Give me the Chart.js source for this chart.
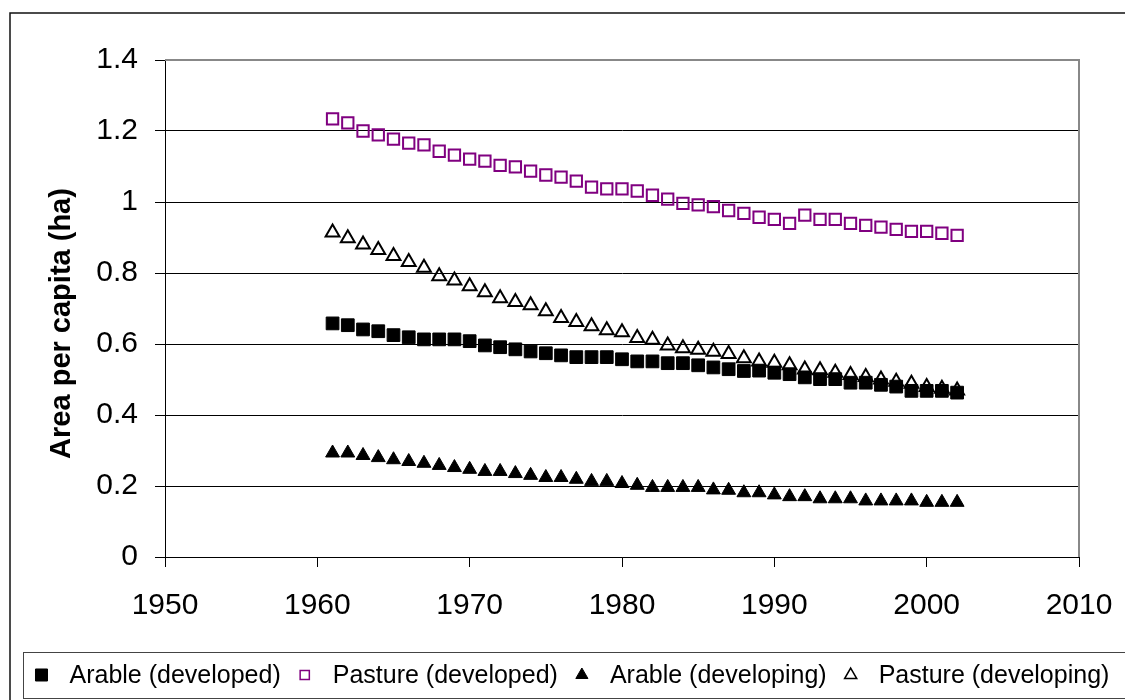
<!DOCTYPE html>
<html>
<head>
<meta charset="utf-8">
<script src="https://cdn.jsdelivr.net/npm/chart.js@4/dist/chart.umd.min.js"></script>
<style>
  html, body { margin: 0; padding: 0; background: #fff; }
  canvas { display: block; }
</style>
</head>
<body>
<canvas id="chart" width="1125" height="700"></canvas>
<script>
/* land area per capita, 1961-2002 */
const years = [1961, 1962, 1963, 1964, 1965, 1966, 1967, 1968, 1969, 1970,
  1971, 1972, 1973, 1974, 1975, 1976, 1977, 1978, 1979, 1980,
  1981, 1982, 1983, 1984, 1985, 1986, 1987, 1988, 1989, 1990,
  1991, 1992, 1993, 1994, 1995, 1996, 1997, 1998, 1999, 2000,
  2001, 2002];

const arableDeveloped = [0.658, 0.653, 0.641, 0.636, 0.625, 0.619, 0.613, 0.613, 0.613, 0.608,
  0.596, 0.591, 0.585, 0.579, 0.574, 0.568, 0.563, 0.563, 0.563, 0.557,
  0.551, 0.551, 0.546, 0.546, 0.540, 0.534, 0.529, 0.524, 0.525, 0.519,
  0.515, 0.506, 0.501, 0.501, 0.491, 0.491, 0.485, 0.480, 0.468, 0.468,
  0.468, 0.463];

const pastureDeveloped = [1.234, 1.223, 1.200, 1.189, 1.177, 1.166, 1.161, 1.143, 1.132, 1.121,
  1.115, 1.103, 1.099, 1.087, 1.076, 1.070, 1.059, 1.042, 1.037, 1.037,
  1.031, 1.019, 1.008, 0.996, 0.992, 0.987, 0.976, 0.968, 0.957, 0.951,
  0.940, 0.963, 0.951, 0.951, 0.940, 0.934, 0.929, 0.923, 0.917, 0.917,
  0.912, 0.906];

const arableDeveloping = [0.293, 0.293, 0.286, 0.280, 0.274, 0.269, 0.264, 0.258, 0.252, 0.247,
  0.241, 0.241, 0.235, 0.230, 0.224, 0.224, 0.219, 0.213, 0.213, 0.207,
  0.202, 0.196, 0.196, 0.196, 0.196, 0.189, 0.188, 0.181, 0.181, 0.175,
  0.170, 0.170, 0.164, 0.164, 0.164, 0.158, 0.158, 0.158, 0.158, 0.154,
  0.154, 0.154];

const pastureDeveloping = [0.914, 0.898, 0.880, 0.865, 0.848, 0.831, 0.815, 0.791, 0.779, 0.763,
  0.746, 0.729, 0.718, 0.709, 0.692, 0.673, 0.662, 0.650, 0.639, 0.633,
  0.617, 0.612, 0.596, 0.588, 0.584, 0.578, 0.572, 0.560, 0.551, 0.547,
  0.540, 0.528, 0.526, 0.519, 0.513, 0.507, 0.500, 0.494, 0.488, 0.479,
  0.474, 0.469];

const seriesNames = ['Arable (developed)', 'Pasture (developed)', 'Arable (developing)', 'Pasture (developing)'];
const yTickLabels = ['0', '0.2', '0.4', '0.6', '0.8', '1', '1.2', '1.4'];
const yTitle = 'Area per capita (ha)';
const purple = '#800080';
const fontFamily = "'Liberation Sans', Arial, sans-serif";

function toPoints(values) {
  return years.map((y, i) => ({ x: y, y: values[i] }));
}

Chart.defaults.font.family = fontFamily;
Chart.defaults.color = '#000';

// frame around the whole chart, gray top/right edge of the plot area, y title
const framePlugin = {
  id: 'frame',
  beforeDatasetsDraw(chart) {
    const { ctx, chartArea: a } = chart;
    ctx.save();
    ctx.strokeStyle = '#888';
    ctx.lineWidth = 2;
    ctx.beginPath();
    ctx.moveTo(a.left, a.top);
    ctx.lineTo(a.right, a.top);
    ctx.lineTo(a.right, a.bottom);
    ctx.stroke();
    ctx.strokeStyle = '#111';
    ctx.lineWidth = 1.5;
    ctx.beginPath();
    ctx.moveTo(10, chart.height);
    ctx.lineTo(10, 13);
    ctx.lineTo(chart.width, 13);
    ctx.stroke();
    // axis title sits a bit below the plot's middle in the original
    ctx.translate(62, (a.top + a.bottom) / 2 + 15);
    ctx.rotate(-Math.PI / 2);
    ctx.font = "bold 29px " + fontFamily;
    ctx.fillStyle = '#000';
    ctx.textAlign = 'center';
    ctx.textBaseline = 'middle';
    ctx.fillText(yTitle, 0, 0);
    ctx.restore();
  }
};

// boxed legend along the bottom, like the spreadsheet original
const legendPlugin = {
  id: 'boxLegend',
  afterDraw(chart) {
    const ctx = chart.ctx;
    const top = chart.height - 48, bottom = chart.height - 2;
    const cy = (top + bottom) / 2;
    ctx.save();
    ctx.strokeStyle = '#444';
    ctx.lineWidth = 1;
    ctx.strokeRect(23.5, top + 0.5, chart.width, bottom - top);
    ctx.font = "25px " + fontFamily;
    ctx.textBaseline = 'middle';
    ctx.textAlign = 'left';
    let x = 41.5;
    chart.data.datasets.forEach(ds => {
      const open = ds.backgroundColor === 'transparent';
      ctx.fillStyle = open ? 'rgba(0,0,0,0)' : ds.backgroundColor;
      ctx.strokeStyle = ds.borderColor;
      ctx.lineWidth = open ? 1.5 : 1;
      Chart.helpers.drawPoint(ctx, {
        pointStyle: ds.pointStyle,
        radius: ds.pointStyle === 'rect' ? (open ? 6.5 : 8.5) : 7,
        borderWidth: ctx.lineWidth,
        rotation: 0
      }, x, cy);
      ctx.fillStyle = '#000';
      ctx.fillText(ds.label, x + 28, cy + 1);
      x += 28 + ctx.measureText(ds.label).width + 24;
    });
    ctx.restore();
  }
};

new Chart(document.getElementById('chart'), {
  type: 'scatter',
  data: {
    datasets: [
      { label: seriesNames[0], data: toPoints(arableDeveloped), pointStyle: 'rect', pointRadius: 9,
        backgroundColor: '#000', borderColor: '#000', borderWidth: 1 },
      { label: seriesNames[1], data: toPoints(pastureDeveloped), pointStyle: 'rect', pointRadius: 8,
        backgroundColor: 'transparent', borderColor: purple, borderWidth: 2 },
      { label: seriesNames[2], data: toPoints(arableDeveloping), pointStyle: 'triangle', pointRadius: 8,
        backgroundColor: '#000', borderColor: '#000', borderWidth: 1 },
      { label: seriesNames[3], data: toPoints(pastureDeveloping), pointStyle: 'triangle', pointRadius: 8,
        backgroundColor: 'transparent', borderColor: '#000', borderWidth: 2 }
    ]
  },
  options: {
    responsive: false,
    animation: false,
    layout: { padding: { top: 60, right: 46, bottom: 48, left: 0 } },
    plugins: {
      legend: { display: false },
      tooltip: { enabled: false }
    },
    elements: { point: { hoverRadius: 8 } },
    scales: {
      x: {
        type: 'linear',
        min: 1950,
        max: 2010,
        ticks: { stepSize: 10, font: { size: 30 }, padding: 21, callback: v => String(v) },
        grid: { drawOnChartArea: false, drawTicks: true, tickLength: 10, color: '#000' },
        border: { color: '#000', width: 1 },
        // keep the layout padding as the only right margin
        afterFit: s => { s.height = 95; s.paddingRight = 0; s.paddingLeft = 0; }
      },
      y: {
        min: 0,
        max: 1.4,
        ticks: { stepSize: 0.2, font: { size: 30 }, padding: 17,
          callback: (v, i) => yTickLabels[i] },
        grid: { color: '#000', tickLength: 10, lineWidth: 1 },
        border: { color: '#000', width: 1 },
        afterFit: s => { s.width = 165; }
      }
    }
  },
  plugins: [framePlugin, legendPlugin]
});
</script>
</body>
</html>
